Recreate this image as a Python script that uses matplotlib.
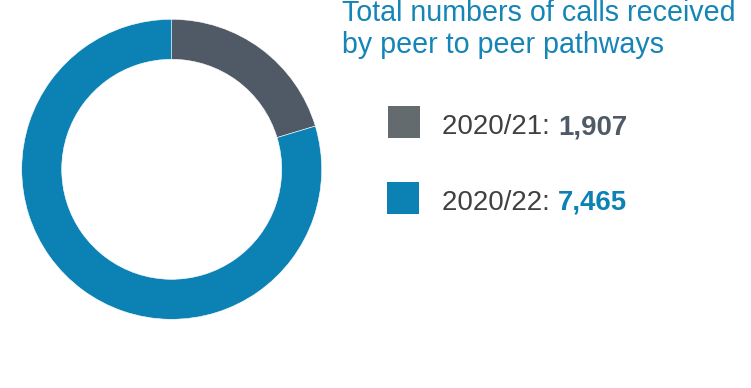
import matplotlib.pyplot as plt
from matplotlib.patches import Rectangle

plt.rcParams['font.family'] = ['Liberation Sans', 'DejaVu Sans']

# calls received by peer to peer pathways
years = ['2020/21', '2020/22']
calls = [1907, 7465]
slice_colors = ['#4f5a66', '#0c82b4']
square_colors = ['#636b6e', '#0c82b4']
value_colors = ['#4f5a66', '#0c82b4']
title_lines = ['Total numbers of calls received', 'by peer to peer pathways']

W, H = 751, 388
fig = plt.figure(figsize=(W / 100, H / 100), dpi=100)

# donut, placed in pixel coordinates
cx, cy, r = 171.7, 169.3, 150
ax = fig.add_axes([(cx - r) / W, 1 - (cy + r) / H, 2 * r / W, 2 * r / H])
ax.pie(calls, colors=slice_colors, startangle=90, counterclock=False,
       radius=1, wedgeprops=dict(width=40 / 150, edgecolor='white', linewidth=0.4))
ax.set_xlim(-1, 1)
ax.set_ylim(-1, 1)
ax.set_aspect('equal')
ax.axis('off')

# title
for line, base in zip(title_lines, [20.7, 53.3]):
    fig.text(341.5 / W, 1 - base / H, line, color='#1584b6',
             fontsize=20.6, va='baseline', ha='left')

# legend rows
rows_y = [134.3, 210.0]
sq_x = [388, 387]
for i, (yr, n) in enumerate(zip(years, calls)):
    base = rows_y[i]
    fig.patches.append(Rectangle((sq_x[i] / W, 1 - (base + 4) / H), 32 / W, 32 / H,
                                 transform=fig.transFigure, facecolor=square_colors[i],
                                 edgecolor='none'))
    t = fig.text(442.5 / W, 1 - base / H, f'{yr}: ', color='#404040',
                 fontsize=19.9, va='baseline', ha='left')
    ax.annotate(f'{n:,}', xy=(1, 0), xycoords=t, color=value_colors[i],
                fontsize=19.9, fontweight='bold', va='bottom', ha='left',
                annotation_clip=False)

fig.savefig('out.png', dpi=100)
